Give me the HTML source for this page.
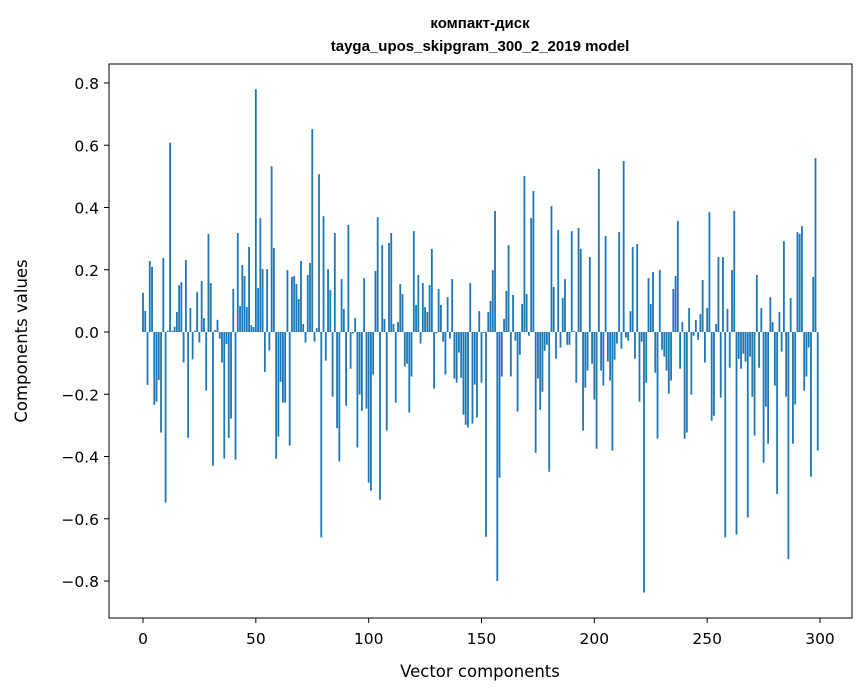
<!DOCTYPE html>
<html><head><meta charset="utf-8"><style>
body{margin:0;background:#fff;}
svg{display:block;font-family:"DejaVu Sans","Liberation Sans",sans-serif;}
</style></head><body>
<svg id="chart" width="867" height="696" viewBox="0 0 867 696">
<text x="480" y="28" text-anchor="middle" font-size="15" font-weight="bold" font-family="Liberation Sans, sans-serif">компакт-диск</text>
<text x="480" y="51" text-anchor="middle" font-size="15" font-weight="bold" font-family="Liberation Sans, sans-serif">tayga_upos_skipgram_300_2_2019 model</text>
<g id="bars"></g>
<g id="xticks"></g>
<g id="yticks"></g>
<rect x="109" y="64" width="743" height="554" fill="none" stroke="#000" stroke-width="1"/>
<text x="480" y="677" text-anchor="middle" font-size="16.5">Vector components</text>
<text transform="translate(27,341) rotate(-90)" text-anchor="middle" font-size="16.5">Components values</text>
</svg>
<script>
const values = [
0.126,0.068,-0.17,0.228,0.209,-0.234,-0.224,-0.154,-0.323,0.238,
-0.548,0.004,0.608,0.004,0.017,0.064,0.15,0.16,-0.098,0.231,
-0.34,0.077,-0.088,0.004,0.128,-0.034,0.164,0.045,-0.188,0.315,
0.157,-0.43,0.006,0.039,-0.021,-0.098,-0.407,-0.039,-0.34,-0.278,
0.138,-0.41,0.318,0.083,0.215,0.18,0.08,0.273,0.022,0.016,
0.78,0.141,0.366,0.202,-0.128,0.202,-0.06,0.533,0.27,-0.407,
-0.336,-0.16,-0.227,-0.227,0.199,-0.365,0.177,0.18,0.154,0.106,
0.228,0.026,-0.034,0.183,0.222,0.652,-0.031,0.013,0.507,-0.66,
0.372,-0.092,0.202,0.135,-0.208,0.318,-0.309,-0.416,0.17,0.074,
-0.237,0.344,-0.118,-0.005,0.045,-0.371,-0.201,-0.253,0.173,-0.246,
-0.484,-0.51,-0.137,0.196,0.369,-0.539,0.279,0.042,-0.317,0.286,
0.318,0.026,-0.227,0.032,0.154,0.122,-0.111,-0.102,-0.259,-0.143,
0.324,0.087,0.183,-0.037,0.157,0.08,0.064,0.151,0.267,-0.182,
-0.005,0.138,0.087,-0.031,-0.137,0.112,-0.021,0.17,-0.15,-0.163,
-0.066,-0.147,-0.266,-0.298,-0.307,0.157,-0.294,-0.169,-0.275,0.067,
-0.163,-0.003,-0.658,0.064,0.1,0.199,0.389,-0.8,-0.468,-0.143,
0.042,0.132,0.279,-0.143,0.119,-0.028,-0.256,-0.073,0.09,0.501,
0.122,-0.012,0.366,0.453,-0.388,-0.15,-0.25,-0.192,-0.06,-0.041,
-0.449,0.405,0.145,-0.086,0.328,-0.05,0.109,0.17,-0.041,-0.041,
0.324,0.003,-0.163,0.334,0.267,-0.317,-0.179,-0.124,0.241,-0.102,
-0.217,-0.375,0.524,-0.124,-0.172,0.308,-0.095,-0.156,-0.381,-0.089,
-0.037,0.321,-0.054,0.549,-0.018,-0.028,0.067,0.273,-0.086,0.283,
-0.224,-0.031,-0.837,-0.163,0.173,0.09,0.193,-0.131,-0.343,0.199,
-0.057,-0.079,-0.124,-0.198,-0.156,0.138,0.18,0.357,-0.118,0.032,
-0.343,-0.323,0.077,-0.201,-0.012,0.039,-0.025,0.058,0.167,-0.098,
0.077,0.385,-0.285,-0.269,0.026,0.241,-0.211,0.241,-0.66,0.074,
-0.115,0.199,0.389,-0.651,-0.086,-0.118,-0.07,-0.095,-0.596,-0.079,
-0.208,-0.333,0.183,-0.115,0.077,-0.42,-0.24,-0.359,0.112,0.032,
-0.172,-0.52,0.064,-0.063,0.292,-0.208,-0.73,0.109,-0.359,-0.233,
0.321,0.315,0.34,-0.188,-0.143,-0.05,-0.465,0.177,0.559,-0.381
];
const xTicks = [0,50,100,150,200,250,300];
const yTicks = [-0.8,-0.6,-0.4,-0.2,0.0,0.2,0.4,0.6,0.8];
const yTickLabels = ["\u22120.8","\u22120.6","\u22120.4","\u22120.2","0.0","0.2","0.4","0.6","0.8"];

const NS = "http://www.w3.org/2000/svg";
const xScale = v => 143 + v * (677 / 300);
const yScale = v => 332 - v * 311.25;
const barW = 0.8 * (677 / 300);

const gb = document.getElementById('bars');
values.forEach((v, i) => {
  const r = document.createElementNS(NS, 'rect');
  const y0 = yScale(0), y1 = yScale(v);
  r.setAttribute('x', xScale(i) - barW / 2);
  r.setAttribute('y', Math.min(y0, y1));
  r.setAttribute('width', barW);
  r.setAttribute('height', Math.abs(y1 - y0));
  r.setAttribute('fill', '#1f77b4');
  
  
  gb.appendChild(r);
});

const gx = document.getElementById('xticks');
xTicks.forEach(t => {
  const x = xScale(t);
  const l = document.createElementNS(NS, 'line');
  l.setAttribute('x1', x); l.setAttribute('x2', x);
  l.setAttribute('y1', 618); l.setAttribute('y2', 623);
  l.setAttribute('stroke', '#000');
  
  
  gx.appendChild(l);
  const tx = document.createElementNS(NS, 'text');
  tx.setAttribute('x', x); tx.setAttribute('y', 644);
  tx.setAttribute('text-anchor', 'middle');
  tx.setAttribute('font-size', '15.5');
  tx.textContent = String(t);
  
  
  gx.appendChild(tx);
});

const gy = document.getElementById('yticks');
yTicks.forEach((t, i) => {
  const y = yScale(t);
  const l = document.createElementNS(NS, 'line');
  l.setAttribute('x1', 104); l.setAttribute('x2', 109);
  l.setAttribute('y1', y); l.setAttribute('y2', y);
  l.setAttribute('stroke', '#000');
  
  
  gy.appendChild(l);
  const tx = document.createElementNS(NS, 'text');
  tx.setAttribute('x', 99); tx.setAttribute('y', y + 6);
  tx.setAttribute('text-anchor', 'end');
  tx.setAttribute('font-size', '15.5');
  tx.textContent = yTickLabels[i];
  
  
  gy.appendChild(tx);
});
</script>
</body></html>
